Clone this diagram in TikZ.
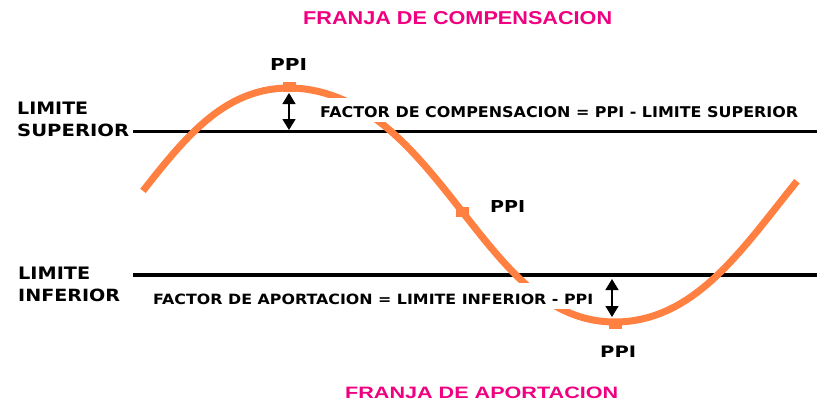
\documentclass[tikz,border=0pt]{standalone}
\usepackage{fontspec}
\setmainfont{Liberation Sans}
\newfontfamily\heavyfont{DejaVu Sans}
\usepackage{graphicx}
\usetikzlibrary{arrows.meta}
\definecolor{curveorange}{RGB}{255,128,64}
\definecolor{franja}{RGB}{240,0,128}
\newcommand\fitlabel[3]{\resizebox{#1pt}{#2pt}{\heavyfont\bfseries #3}}
\newcommand\fitpink[3]{\resizebox{#1pt}{#2pt}{\bfseries #3}}
\begin{document}
\begin{tikzpicture}[x=1pt,y=-1pt,
  declare function={
    thz(\t)=(\t-289)/326*180;
    shf(\t)=(\t<289) ? 6*sin(thz(\t))*sin(thz(\t)) : ((\t<615) ? 5*sin(thz(\t))*sin(thz(\t)) : 0);
    thw(\t)=(\t-shf(\t)-289)/326*180;
    wy(\t)=205-117*(cos(thw(\t))-0.03*cos(3*thw(\t)))/0.97;
  },
  lbl/.style={inner sep=0pt, anchor=south west},
  limline/.style={line width=3.5pt, black},
  wave/.style={line width=7pt, curveorange, line cap=butt},
  marker/.style={fill=curveorange, minimum width=13pt, minimum height=10pt, inner sep=0pt},
  dblarrow/.style={line width=1.5pt, {Triangle[length=11pt,width=13pt]}-{Triangle[length=11pt,width=13pt]}},
  cover/.style={fill=white, draw=none}]
\useasboundingbox (0,0) rectangle (817,402);
\fill[white] (0,0) rectangle (817,402);
% limit lines
\coordinate (supL) at (133,131.5);
\coordinate (supR) at (817,131.5);
\coordinate (infL) at (133,275);
\coordinate (infR) at (817,275);
\draw[limline] (supL) -- (supR);
\draw[limline] (infL) -- (infR);
% wave
\draw[wave] plot[domain=143:797, samples=240, variable=\x] ({\x},{wy(\x)});
% markers
\node[marker] (pkTop) at (289,87) {};
\node[marker] (pkMid) at (462,212) {};
\node[marker] (pkBot) at (615,324) {};
% label covers
\fill[cover] (315,98) rectangle (805,122);
\fill[cover] (148,283) rectangle (598,309);
% texts
\node[lbl, text=franja] (franjaC) at (303,25) {\fitpink{309}{13}{FRANJA DE COMPENSACION}};
\node[lbl] (ppiTop) at (270,71) {\fitlabel{37}{12}{PPI}};
\node[lbl] (limSup1) at (17,114.5) {\fitlabel{71}{12.5}{LIMITE}};
\node[lbl] (limSup2) at (17,136.5) {\fitlabel{112}{12.5}{SUPERIOR}};
\node[lbl] (factComp) at (320,118) {\fitlabel{478}{11}{FACTOR DE COMPENSACION = PPI - LIMITE SUPERIOR}};
\node[lbl] (ppiMid) at (490,213) {\fitlabel{35}{12}{PPI}};
\node[lbl] (limInf1) at (18,280) {\fitlabel{72}{12.5}{LIMITE}};
\node[lbl] (limInf2) at (18,302) {\fitlabel{102}{12.5}{INFERIOR}};
\node[lbl] (factApor) at (153,305) {\fitlabel{440}{10.5}{FACTOR DE APORTACION = LIMITE INFERIOR - PPI}};
\node[lbl] (ppiBot) at (600,358) {\fitlabel{36}{11.5}{PPI}};
\node[lbl, text=franja] (franjaA) at (345,399) {\fitpink{273}{11.5}{FRANJA DE APORTACION}};
% arrows
\coordinate (compTop) at (289,93);
\coordinate (compBot) at (289,130);
\coordinate (aporTop) at (612,279);
\coordinate (aporBot) at (612,317);
\draw[dblarrow] (compTop) -- (compBot);
\draw[dblarrow] (aporTop) -- (aporBot);
\end{tikzpicture}
\end{document}
